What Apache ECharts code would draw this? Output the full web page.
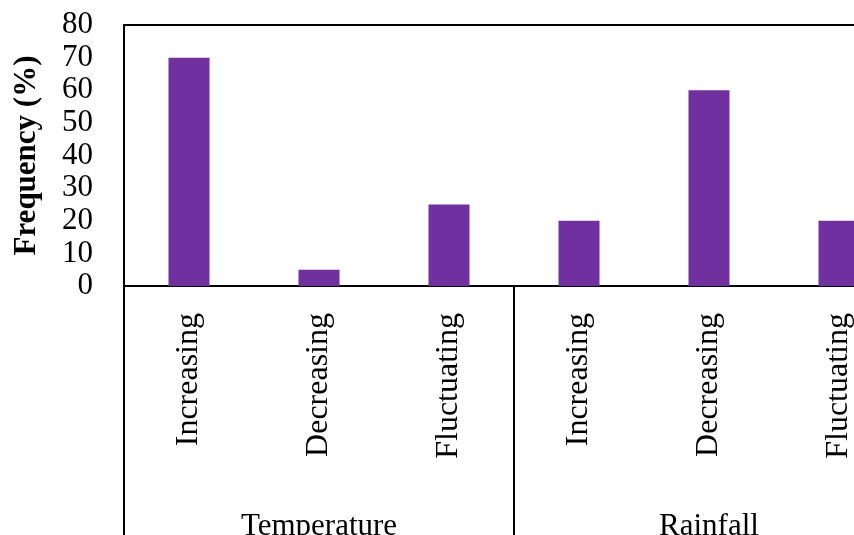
<!DOCTYPE html>
<html>
<head>
<meta charset="utf-8">
<script src="https://cdn.jsdelivr.net/npm/echarts@6/dist/echarts.min.js"></script>
<style>
  html, body { margin: 0; padding: 0; background: #fff; }
  #chart { width: 854px; height: 535px; }
</style>
</head>
<body>
<div id="chart"></div>
<script>
// 数据
const categories = ['Increasing', 'Decreasing', 'Fluctuating', 'Increasing', 'Decreasing', 'Fluctuating']
const groups = ['Temperature', 'Rainfall']
const frequency = [70, 5, 25, 20, 60, 20]
const yTicks = { min: 0, max: 80, interval: 10 }

const font = 'Liberation Serif, Times New Roman, serif'
const chart = echarts.init(document.getElementById('chart'))

const option = {
  animation: false,
  grid: {
    left: 124,
    top: 25,
    width: 780,
    height: 261,
    // 图表右侧被裁掉，不要把绘图区压回容器内
    outerBoundsMode: 'none'
  },
  xAxis: [
    {
      type: 'category',
      data: categories,
      axisLine: { lineStyle: { color: '#000', width: 2 } },
      axisTick: { show: false },
      axisLabel: {
        interval: 0,
        rotate: 90,
        margin: 27,
        color: '#000',
        fontFamily: font,
        fontSize: 32
      }
    },
    {
      // 分组标签 + 分隔线
      type: 'category',
      position: 'bottom',
      data: groups,
      axisLine: { show: false },
      axisTick: { show: true, length: 260, lineStyle: { color: '#000', width: 2 } },
      axisLabel: {
        margin: 225,
        color: '#000',
        fontFamily: font,
        fontSize: 31
      }
    },
    {
      // 顶部边框
      type: 'category',
      position: 'top',
      data: groups,
      axisLine: { lineStyle: { color: '#000', width: 2 } },
      axisTick: { show: false },
      axisLabel: { show: false }
    }
  ],
  yAxis: {
    type: 'value',
    min: yTicks.min,
    max: yTicks.max,
    interval: yTicks.interval,
    name: 'Frequency (%)',
    nameLocation: 'middle',
    nameGap: 82,
    nameTextStyle: {
      color: '#000',
      fontFamily: font,
      fontSize: 31,
      fontWeight: 'bold'
    },
    axisLine: { show: true, lineStyle: { color: '#000', width: 2 } },
    axisTick: { show: false },
    splitLine: { show: false },
    axisLabel: {
      margin: 31,
      padding: [5, 0, 0, 0],
      color: '#000',
      fontFamily: font,
      fontSize: 31
    }
  },
  series: [
    {
      type: 'bar',
      data: frequency,
      barWidth: 41,
      itemStyle: { color: '#7030A0' }
    }
  ]
}

chart.setOption(option)
</script>
</body>
</html>
